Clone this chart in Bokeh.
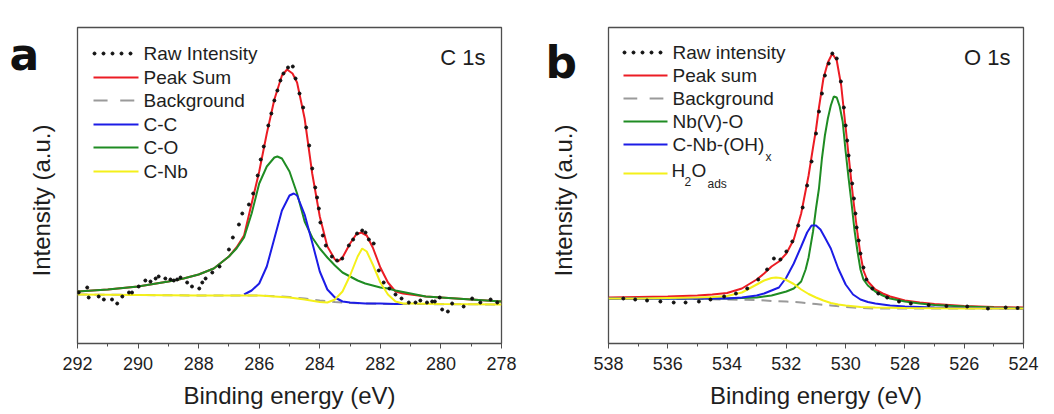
from math import pi
from bokeh.plotting import figure
from bokeh.layouts import row
from bokeh.models import Range1d, FixedTicker, Label
from bokeh.embed import file_html
from bokeh.resources import INLINE
from bokeh.core.properties import value

# ---------------- data: C 1s (panel a) ----------------
c_ticks = [292, 290, 288, 286, 284, 282, 280, 278]
c_tick_labels = ["292", "290", "288", "286", "284", "282", "280", "278"]
c_minor = [291, 289, 287, 285, 283, 281, 279]

c_raw_x = [291.96, 291.68, 291.63, 291.30, 291.13, 290.86, 290.69, 290.52, 290.30, 290.20,
           289.98, 289.76, 289.59, 289.42, 289.32, 289.10, 288.93, 288.82, 288.71, 288.60,
           288.38, 288.22, 287.98, 287.88, 287.77, 287.55, 287.31, 287.00, 286.87, 286.67,
           286.56, 286.34, 286.20, 286.05, 285.95, 285.85, 285.70, 285.60, 285.50, 285.40,
           285.30, 285.20, 285.05, 284.89, 284.80, 284.67, 284.55, 284.45, 284.35, 284.25,
           284.15, 284.09, 284.03, 283.98, 283.90, 283.80, 283.60, 283.43, 283.26, 283.04,
           282.90, 282.77, 282.60, 282.49, 282.38, 282.22, 282.05, 281.89, 281.70, 281.50,
           281.30, 281.06, 280.84, 280.68, 280.46, 280.29, 280.20, 280.04, 279.96, 279.77,
           279.63, 279.25, 278.97, 278.70, 278.36, 278.14]
c_raw_y = [51, 56, 46, 47, 44, 44, 40, 47, 51, 51,
           57, 63, 62, 65, 67, 65, 64, 63, 64, 66,
           61, 57, 55, 61, 65, 71, 77, 94, 106, 119,
           130, 139, 150, 168, 184, 197, 218, 230, 243, 253,
           263, 270, 276, 277, 265, 250, 236, 216, 198, 175,
           156, 146, 135, 121, 108, 98, 87, 83, 85, 98,
           104, 110, 113, 111, 104, 100, 73, 61, 55, 49,
           45, 41, 41, 43, 41, 42, 42, 46, 34, 32,
           40, 37, 45, 41, 44, 41]

c_sum_x = [292, 291, 290, 289, 288.5, 288, 287.5, 287, 286.75, 286.5, 286.25, 286, 285.75,
           285.5, 285.25, 285.08, 284.9, 284.75, 284.5, 284.25, 284, 283.75, 283.5, 283.4,
           283.25, 283, 282.8, 282.63, 282.45, 282.25, 282, 281.75, 281.5, 281.25, 281,
           280.5, 280, 279, 278]
c_sum_y = [52, 54, 57, 62, 65, 69, 75, 87, 96, 108, 140, 172, 210,
           244, 268, 274, 270, 261, 225, 170, 127, 97, 84, 82,
           86, 100, 109, 111, 108, 96, 76, 61, 52, 50, 49,
           47, 46, 44, 42]

c_bg_x = [292, 290, 288, 286, 285, 284.5, 284, 283.5, 283, 282.5, 282, 281, 278]
c_bg_y = [49, 48.5, 48, 48, 46.5, 45, 43, 41.5, 40.5, 40, 39.5, 39.5, 39]

c_cc_x = [286.5, 286.25, 286, 285.75, 285.5, 285.25, 285, 284.86, 284.75, 284.5, 284.25,
          284, 283.75, 283.5, 283.25, 283, 282.75, 282.5, 282, 281.5, 281.25]
c_cc_y = [49, 53, 60, 77, 105, 133, 148, 150, 148, 129, 101,
          72, 54, 46, 42, 41, 40.5, 40, 40, 39.5, 39.5]

c_co_x = [292, 291, 290, 289, 288.5, 288, 287.5, 287, 286.75, 286.5, 286.25, 286, 285.75,
          285.5, 285.4, 285.25, 285, 284.75, 284.5, 284.25, 284, 283.75, 283.5, 283.25,
          283, 282.75, 282.5, 282.25, 282, 281.75, 281.5, 281, 280.5, 280, 279, 278]
c_co_y = [52, 54, 57, 62, 65, 69, 75, 87, 95, 106, 130, 160, 177,
          186, 187, 185, 172, 150, 122, 106, 95, 86, 78, 71,
          67, 63, 60, 58, 56, 55, 53, 50, 47, 46, 44, 42]

c_cnb_x = [292, 290, 288, 286, 285, 284.5, 284, 283.75, 283.5, 283.25, 283, 282.75, 282.6,
           282.45, 282.25, 282, 281.75, 281.5, 281.25, 281, 280, 278]
c_cnb_y = [49, 48.5, 48, 48, 46, 44, 41.5, 41, 44, 52, 68, 87, 95,
           92, 79, 61, 49, 42, 40, 40, 39.5, 39]

# ---------------- data: O 1s (panel b) ----------------
o_ticks = [538, 536, 534, 532, 530, 528, 526, 524]
o_tick_labels = ["538", "536", "534", "532", "530", "528", "526", "524"]
o_minor = [537, 535, 533, 531, 529, 527, 525]

o_raw_x = [537.50, 537.10, 536.70, 536.25, 535.80, 535.40, 534.95, 534.56, 534.10, 533.70,
           533.32, 532.95, 532.65, 532.42, 532.20, 532.00, 531.80, 531.60, 531.45, 531.30,
           531.15, 531.00, 530.90, 530.80, 530.70, 530.57, 530.45, 530.30, 530.16, 530.06,
           530.00, 529.95, 529.90, 529.84, 529.78, 529.72, 529.67, 529.63, 529.56, 529.50,
           529.40, 529.30, 529.10, 528.90, 528.60, 528.20, 527.80, 527.20, 526.60, 525.90,
           525.20, 524.60, 524.20]
o_raw_y = [45, 44, 43, 42, 41, 41, 42, 44, 47, 50,
           55, 64, 74, 85, 84, 92, 102, 118, 136, 158,
           182, 210, 232, 250, 268, 280, 290, 285, 262, 236,
           218, 203, 188, 173, 160, 145, 130, 116, 103, 90,
           76, 64, 55, 50, 46, 42, 40, 38.5, 37.5, 37,
           35, 36, 35.5]

o_sum_x = [538, 537, 536, 535, 534.5, 534, 533.5, 533, 532.75, 532.5, 532.25, 532, 531.75,
           531.5, 531.25, 531.1, 531, 530.9, 530.75, 530.6, 530.45, 530.3, 530.15, 530,
           529.9, 529.75, 529.6, 529.5, 529.4, 529.25, 529, 528.75, 528.5, 528, 527.5, 527,
           526, 525, 524]
o_sum_y = [46, 46.5, 47, 48, 49, 50.5, 55, 64, 70, 77, 82, 90, 104,
           130, 168, 196, 214, 236, 265, 281, 290, 283, 258, 216,
           188, 146, 110, 89, 73, 62, 54, 50, 47, 43, 41, 39.5,
           37.5, 36.5, 36]

o_bg_x = [538, 536, 535, 534, 533, 532.5, 532, 531.5, 531, 530.5, 530, 529.5, 529, 528, 526, 524]
o_bg_y = [45, 45, 44.5, 44, 43.5, 42.5, 42, 41, 39.5, 38, 36.5, 35.5, 35, 35, 35, 35]

o_nbo_x = [538, 536, 534, 533, 532.5, 532, 531.75, 531.5, 531.35, 531.25, 531.1, 531, 530.9,
           530.8, 530.7, 530.6, 530.5, 530.4, 530.3, 530.2, 530.1, 530, 529.9, 529.8, 529.7,
           529.6, 529.5, 529.4, 529.25, 529, 528.75, 528.5, 528, 527.5, 527, 526, 525, 524]
o_nbo_y = [45, 45, 45, 46, 48, 52, 55, 62, 74, 86, 112, 135, 155,
           185, 208, 225, 238, 247, 246, 237, 222, 192, 165, 140, 113,
           92, 74, 64, 58, 52, 48, 45, 42, 40, 38.5, 37, 36, 35.5]

o_oh_x = [538, 536, 535, 534, 533.5, 533, 532.75, 532.5, 532.25, 532, 531.75, 531.5, 531.3,
          531.15, 531, 530.85, 530.7, 530.5, 530.25, 530, 529.75, 529.5, 529.25, 529, 528.5,
          528, 527, 526, 524]
o_oh_y = [45, 45, 45, 45, 46, 48, 50, 53, 56, 66, 80, 97, 111,
          118, 118, 114, 106, 95, 75, 59, 49, 44, 41.5, 40, 38,
          37, 36, 35.5, 35]

o_h2o_x = [538, 537, 536, 535, 534.5, 534, 533.5, 533.25, 533, 532.75, 532.5, 532.35, 532.2,
           532, 531.75, 531.5, 531.25, 531, 530.75, 530.5, 530.25, 530, 529.5, 529, 528, 526, 524]
o_h2o_y = [45, 45, 45.5, 46, 46.5, 47.5, 51, 55, 59, 63, 65.5, 66, 65.5,
           63.5, 59.5, 54, 49.5, 46, 43, 40.5, 39, 38, 36.5, 36, 35.5, 35, 35]

# ---------------- styling / layout ----------------
FONT = "Liberation Sans"
TXT = "#1e1e1e"
RED = "#ec1c24"
GREEN = "#1f8c23"
BLUE = "#1c1ce6"
YELLOW = "#f4f01a"
GRAY = "#9a9a9a"
FRAME_COL = "#4e4e4e"
W_TOTAL, H = 1054, 414
BOX_TOP, BOX_BOTTOM = 27, 343      # picture pixels of the plot box (= Bokeh frame)
SIDE = 16                          # blank border left of each frame


def make_panel(x0, x1, fig_w, frame_left, frame_w, ticks, tick_labels, minor):
    p = figure(width=fig_w, height=H, x_range=Range1d(x0, x1),
               y_range=Range1d(0, BOX_BOTTOM - BOX_TOP),
               output_backend="svg", toolbar_location=None, y_axis_location=None,
               min_border_left=SIDE, min_border_right=fig_w - SIDE - frame_w,
               min_border_top=BOX_TOP, min_border_bottom=H - BOX_BOTTOM)
    p.grid.visible = False
    p.background_fill_color = "white"
    p.border_fill_color = "white"
    p.outline_line_color = FRAME_COL
    p.outline_line_width = 1.3
    p.outline_line_alpha = 1.0
    ax = p.xaxis[0]
    ax.ticker = FixedTicker(ticks=ticks, minor_ticks=minor)
    ax.major_label_overrides = {t: lab for t, lab in zip(ticks, tick_labels)}
    ax.major_label_text_font = FONT
    ax.major_label_text_font_size = "18px"
    ax.major_label_text_color = TXT
    ax.major_label_standoff = 8
    ax.axis_line_color = FRAME_COL
    ax.axis_line_width = 1.2
    ax.major_tick_line_color = FRAME_COL
    ax.minor_tick_line_color = FRAME_COL
    ax.major_tick_in = 0
    ax.major_tick_out = 5
    ax.minor_tick_in = 0
    ax.minor_tick_out = 3
    ax.axis_label = "Binding energy (eV)"
    ax.axis_label_text_font = FONT
    ax.axis_label_text_font_size = "24px"
    ax.axis_label_text_font_style = "normal"
    ax.axis_label_text_color = TXT
    ax.axis_label_standoff = 9

    def dx(px):
        return x0 + (px - frame_left) * (x1 - x0) / frame_w

    def dy(py):
        return BOX_BOTTOM - py

    return p, dx, dy


def side_panel(width, left, letter, letter_left, letter_baseline, ylabel_center):
    """Narrow figure left of a panel: panel letter and rotated y-axis title."""
    s = figure(width=width, height=H, x_range=Range1d(0, width),
               y_range=Range1d(0, BOX_BOTTOM - BOX_TOP),
               output_backend="svg", toolbar_location=None,
               x_axis_location=None, y_axis_location=None,
               min_border=0, min_border_left=0, min_border_right=0,
               min_border_top=BOX_TOP, min_border_bottom=H - BOX_BOTTOM)
    s.grid.visible = False
    s.outline_line_color = None
    s.background_fill_color = "white"
    s.border_fill_color = "white"
    s.text(x=[letter_left - left], y=[BOX_BOTTOM - letter_baseline], text=[letter],
           text_font=value("DejaVu Sans"), text_font_size="44px", text_font_style="bold",
           text_color="#111111", text_align="left", text_baseline="alphabetic")
    s.text(x=[ylabel_center[0] - left], y=[BOX_BOTTOM - ylabel_center[1]], text=["Intensity (a.u.)"],
           text_font=value(FONT), text_font_size="24px", text_color=TXT, angle=pi / 2,
           text_align="center", text_baseline="middle")
    return s


def add_label(p, x, y, text, size, align="left", baseline="middle"):
    p.add_layout(Label(x=x, y=y, text=text, text_font=FONT, text_font_size=size,
                       text_color=TXT, text_align=align, text_baseline=baseline))


def legend(p, dx, dy, x_line0, x_line1, x_text, rows):
    for kind, color, text, y in rows:
        if kind == "dots":
            n = 5
            xs = [dx(x_line0 + 1 + i * 9) for i in range(n)]
            p.scatter(xs, [dy(y)] * n, size=3, color="#111111")
        elif kind == "dash":
            seg = (x_line1 - x_line0) / 3.2
            p.segment(x0=[dx(x_line0), dx(x_line0 + 1.9 * seg)], y0=[dy(y)] * 2,
                      x1=[dx(x_line0 + seg), dx(x_line0 + 2.9 * seg)], y1=[dy(y)] * 2,
                      line_color=GRAY, line_width=2)
        else:
            p.segment(x0=[dx(x_line0)], y0=[dy(y)], x1=[dx(x_line1)], y1=[dy(y)],
                      line_color=color, line_width=2)
        if text:
            add_label(p, dx(x_text), dy(y), text, "19px")


# widths (picture px): side a 0..61, panel a 61..528, side b 528..592, panel b 592..1054
SA_W = 77 - SIDE                 # 61
PA_W = 528 - SA_W                # 467
SB_W = 608 - SIDE - 528          # 64
PB_W = W_TOTAL - 528 - SB_W      # 462

sa = side_panel(SA_W, 0, "a", 9, 54, (41, 200))
sb = side_panel(SB_W, 528, "b", 545, 62, (563, 200))

# ---------------- panel a ----------------
pa, dxa, dya = make_panel(292, 278, PA_W, 77, 424, c_ticks, c_tick_labels, c_minor)
pa.line(c_bg_x, c_bg_y, line_color=GRAY, line_width=2, line_dash="10 7")
pa.line(c_sum_x, c_sum_y, line_color=RED, line_width=2)
pa.line(c_co_x, c_co_y, line_color=GREEN, line_width=2)
pa.line(c_cc_x, c_cc_y, line_color=BLUE, line_width=2)
pa.line(c_cnb_x, c_cnb_y, line_color=YELLOW, line_width=2)
pa.scatter(c_raw_x, c_raw_y, size=3, color="#111111")
legend(pa, dxa, dya, 93, 138, 143, [
    ("dots", None, "Raw Intensity", 53),
    ("line", RED, "Peak Sum", 77),
    ("dash", None, "Background", 100),
    ("line", BLUE, "C-C", 124),
    ("line", GREEN, "C-O", 147),
    ("line", YELLOW, "C-Nb", 171),
])
add_label(pa, dxa(485), dya(57), "C 1s", "22px", align="right")

# ---------------- panel b ----------------
pb, dxb, dyb = make_panel(538, 524, PB_W, 608, 415, o_ticks, o_tick_labels, o_minor)
pb.line(o_bg_x, o_bg_y, line_color=GRAY, line_width=2, line_dash="10 7")
pb.line(o_sum_x, o_sum_y, line_color=RED, line_width=2)
pb.line(o_nbo_x, o_nbo_y, line_color=GREEN, line_width=2)
pb.line(o_oh_x, o_oh_y, line_color=BLUE, line_width=2)
pb.line(o_h2o_x, o_h2o_y, line_color=YELLOW, line_width=2)
pb.scatter(o_raw_x, o_raw_y, size=3, color="#111111")
legend(pb, dxb, dyb, 623, 667, 672, [
    ("dots", None, "Raw intensity", 52),
    ("line", RED, "Peak sum", 75),
    ("dash", None, "Background", 98),
    ("line", GREEN, "Nb(V)-O", 121),
    ("line", BLUE, "C-Nb-(OH)", 144),
    ("line", YELLOW, None, 173),
])
add_label(pb, dxb(765), dyb(156), "x", "12px")
add_label(pb, dxb(671), dyb(170), "H", "19px")
add_label(pb, dxb(684), dyb(181), "2", "12px")
add_label(pb, dxb(691), dyb(170), "O", "19px")
add_label(pb, dxb(707), dyb(183), "ads", "12px")
add_label(pb, dxb(1010), dyb(57), "O 1s", "22px", align="right")

layout = row(sa, pa, sb, pb, spacing=0)
open("out.html", "w").write(file_html(layout, INLINE))
